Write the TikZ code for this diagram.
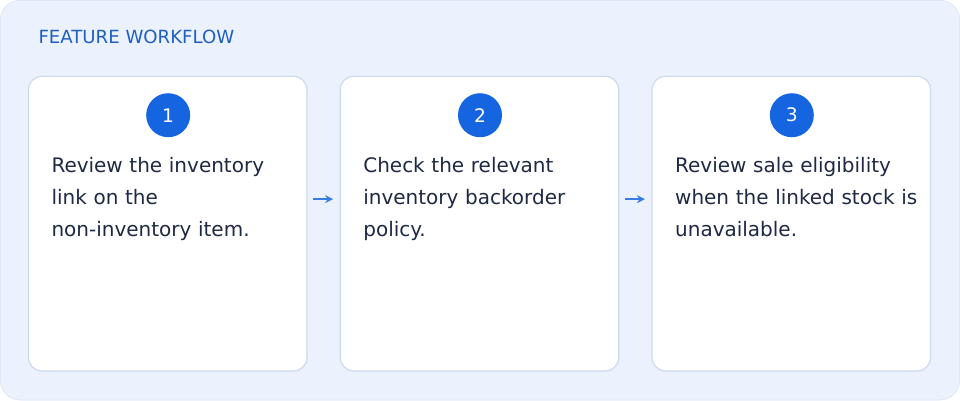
\documentclass[tikz,border=0pt]{standalone}
\usepackage{fontspec}
\setmainfont{DejaVu Sans}
\usetikzlibrary{arrows.meta,positioning}
\definecolor{panelbg}{HTML}{EBF2FD}
\definecolor{panelline}{HTML}{D5E1F5}
\definecolor{cardline}{HTML}{CCD9EE}
\definecolor{stepblue}{HTML}{1565E0}
\definecolor{titleblue}{HTML}{1F5FBF}
\definecolor{bodytext}{HTML}{1E2A44}
\begin{document}
\begin{tikzpicture}
  [
    x=0.75pt, y=-0.75pt,
    card/.style =
      {draw=cardline, fill=white, rounded corners=10pt, line width=0.9pt,
       minimum width=209pt, minimum height=221pt, inner sep=0pt},
    badge/.style =
      {circle, fill=stepblue, text=white, minimum size=33pt, inner sep=0pt,
       font=\fontsize{14}{16}\selectfont},
    steptext/.style =
      {align=left, text=bodytext, text width=200pt, inner sep=0pt,
       font=\fontsize{15}{24}\selectfont},
    link/.style =
      {-{Stealth[length=6pt,width=6pt]}, draw=stepblue!85, line width=1.1pt}
  ]

\draw[fill=panelbg, draw=panelline, rounded corners=15pt] (0,0) rectangle (960,400);
\node[anchor=west, inner sep=0pt, text=titleblue, font=\fontsize{13.6}{16}\selectfont] (title) at (38,37) {FEATURE WORKFLOW};

\node[card] (c1) at (167.5,223.5) {};
\node[card] (c2) at (479.5,223.5) {};
\node[card] (c3) at (791.5,223.5) {};

\node[badge] (b1) at (168,115) {1};
\node[badge] (b2) at (480,115) {2};
\node[badge] (b3) at (792,115) {3};

\node[steptext, anchor=north west] (t1) at (51,157) {Review the inventory\\link on the\\non-inventory item.};
\node[steptext, anchor=north west] (t2) at (363,157) {Check the relevant\\inventory backorder\\policy.};
\node[steptext, anchor=north west] (t3) at (675,157) {Review sale eligibility\\when the linked stock is\\unavailable.};

\coordinate (a1) at (313,199); \coordinate (a2) at (333,199);
\coordinate (a3) at (625,199); \coordinate (a4) at (645,199);
\draw[link] (a1) -- (a2);
\draw[link] (a3) -- (a4);

\end{tikzpicture}
\end{document}
